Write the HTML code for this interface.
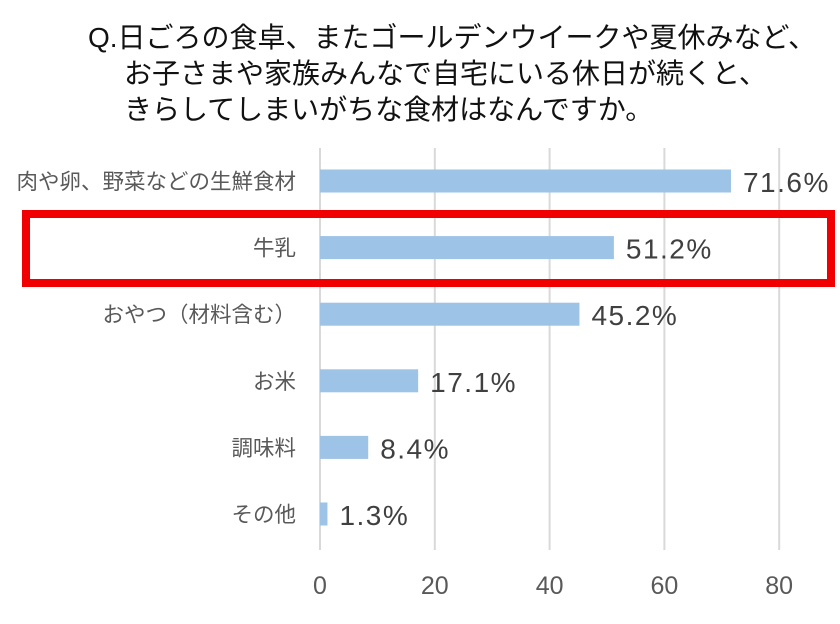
<!DOCTYPE html>
<html><head><meta charset="utf-8"><style>
body{margin:0;background:#fff;}
svg text{font-family:"Liberation Sans","Noto Sans CJK JP",sans-serif;}
</style></head><body>
<svg width="840" height="619" viewBox="0 0 840 619">
<g font-size="28" fill="#111">
<text x="88" y="47">Q.日ごろの食卓、またゴールデンウイークや夏休みなど、</text>
<text x="124" y="83">お子さまや家族みんなで自宅にいる休日が続くと、</text>
<text x="124" y="119">きらしてしまいがちな食材はなんですか。</text>
</g>
<g id="grid"></g>
<g id="bars"></g>
<g id="xt"></g>
<rect x="26" y="214" width="805" height="69" fill="none" stroke="#f00000" stroke-width="8"/>
</svg>
<script>
const categories=["肉や卵、野菜などの生鮮食材","牛乳","おやつ（材料含む）","お米","調味料","その他"];
const values=[71.6,51.2,45.2,17.1,8.4,1.3];
const valueLabels=["71.6%","51.2%","45.2%","17.1%","8.4%","1.3%"];
const ticks=[0,20,40,60,80];
const NS="http://www.w3.org/2000/svg";
const x=v=>320+v*5.74;
const yc=i=>181+i*66.6;
function mk(t,a,p){const e=document.createElementNS(NS,t);for(const k in a)e.setAttribute(k,a[k]);p.appendChild(e);return e;}
const g=document.getElementById('grid'),b=document.getElementById('bars'),xt=document.getElementById('xt');
ticks.forEach(t=>{
 const l=mk('line',{x1:x(t),x2:x(t),y1:148,y2:550,stroke:'#d9d9d9','stroke-width':2},g);
 
 
 const tx=mk('text',{x:x(t),y:594,'text-anchor':'middle','font-size':25,fill:'#595959'},xt);
 tx.textContent=t;
 
 
});
categories.forEach((c,i)=>{
 const r=mk('rect',{x:x(0),y:yc(i)-11.5,width:x(values[i])-x(0),height:23,fill:'#9dc3e6'},b);
 
 
 const lb=mk('text',{x:296,y:yc(i)+8,'text-anchor':'end','font-size':21.5,fill:'#595959'},b);
 lb.textContent=c;
 
 
 const vl=mk('text',{x:x(values[i])+12,y:yc(i)+11,'font-size':28,'letter-spacing':1.5,fill:'#404040'},b);
 vl.textContent=valueLabels[i];
 
 
});
</script>
</body></html>
